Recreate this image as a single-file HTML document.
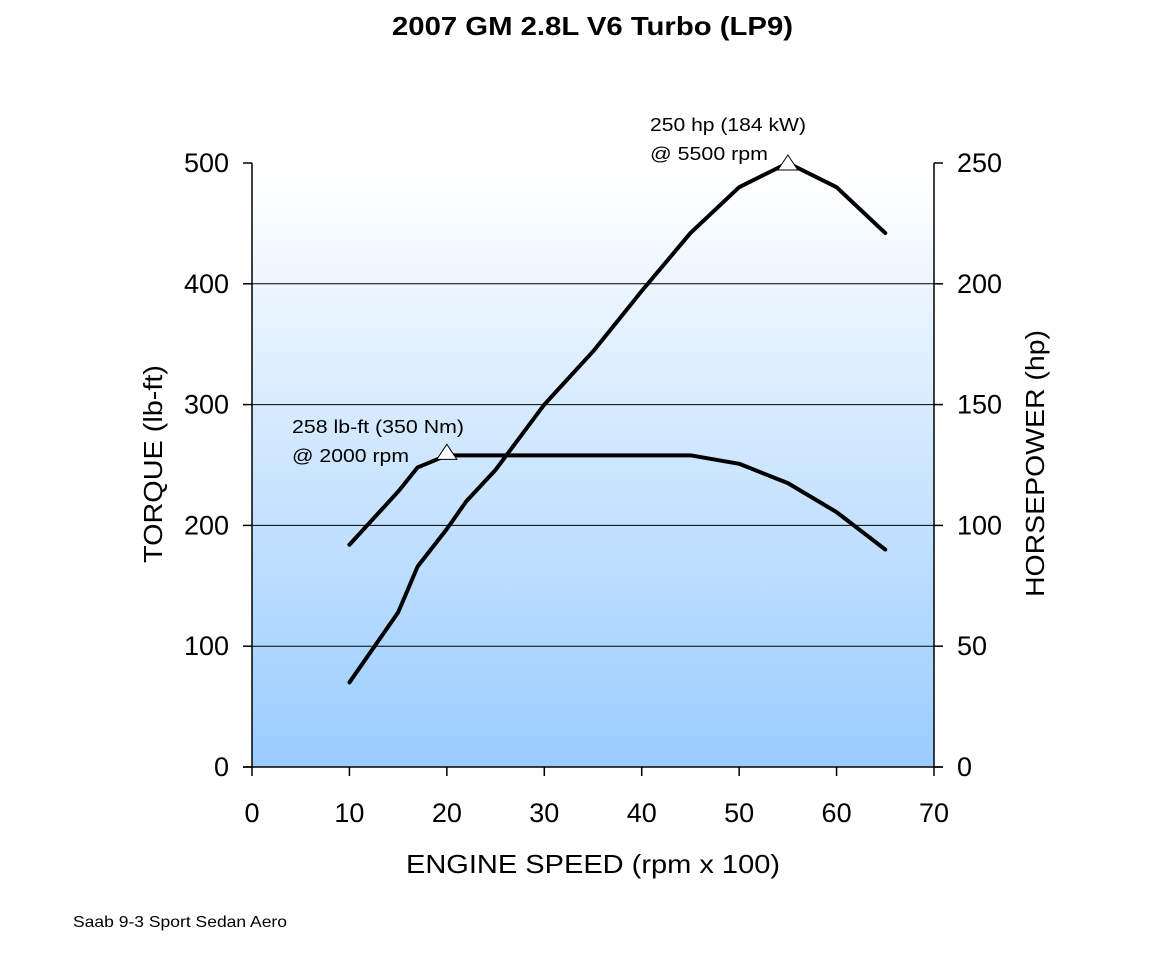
<!DOCTYPE html>
<html><head><meta charset="utf-8"><style>
body{margin:0;background:#fff;}
svg text{font-family:"Liberation Sans",Arial,sans-serif;}
</style></head><body>
<svg width="1152" height="948" viewBox="0 0 1152 948" xmlns="http://www.w3.org/2000/svg">
<defs><linearGradient id="bg" x1="0" y1="0" x2="0" y2="1">
<stop offset="0" stop-color="#ffffff"/><stop offset="0.06" stop-color="#fbfdff"/><stop offset="1" stop-color="#99ccff"/></linearGradient></defs>
<text x="392" y="35" textLength="401" lengthAdjust="spacingAndGlyphs" font-size="26" font-weight="bold">2007 GM 2.8L V6 Turbo (LP9)</text>
<rect x="252" y="163" width="682" height="604" fill="url(#bg)"/>
<g id="grid"></g><g id="axes"></g><g id="series"></g>
<text x="406" y="873" textLength="374" lengthAdjust="spacingAndGlyphs" font-size="26">ENGINE SPEED (rpm x 100)</text>
<text transform="translate(162,563) rotate(-90)" textLength="198" lengthAdjust="spacingAndGlyphs" font-size="26">TORQUE (lb-ft)</text>
<text transform="translate(1044,597) rotate(-90)" textLength="267" lengthAdjust="spacingAndGlyphs" font-size="26">HORSEPOWER (hp)</text>
<text x="292" y="433" textLength="172" lengthAdjust="spacingAndGlyphs" font-size="18">258 lb-ft (350 Nm)</text>
<text x="292" y="462" textLength="117" lengthAdjust="spacingAndGlyphs" font-size="18">@ 2000 rpm</text>
<text x="650" y="131" textLength="156" lengthAdjust="spacingAndGlyphs" font-size="18">250 hp (184 kW)</text>
<text x="650" y="160" textLength="118" lengthAdjust="spacingAndGlyphs" font-size="18">@ 5500 rpm</text>
<text x="73" y="927" textLength="214" lengthAdjust="spacingAndGlyphs" font-size="16">Saab 9-3 Sport Sedan Aero</text>
</svg>
<script>
const rpm = [10,15,17,20,22,25,30,35,40,45,50,55,60,65];
const torque = [184,228,248,258,258,258,258,258,258,258,251,235,211,180];
const hp = [35,64,83,98.5,110,123,150,172,197,221,240,250,240,221];
const xTicks = [0,10,20,30,40,50,60,70];
const torqueTicks = [0,100,200,300,400,500];
const hpTicks = [0,50,100,150,200,250];
const NS="http://www.w3.org/2000/svg";
const X0=252,X1=934,Y0=767,Y1=163;
const xs=v=>X0+(v-0)/70*(X1-X0);
const yt=v=>Y0-v/500*(Y0-Y1);
const yh=v=>Y0-v/250*(Y0-Y1);
function mk(tag,attrs,parent,text){const e=document.createElementNS(NS,tag);for(const k in attrs)e.setAttribute(k,attrs[k]);if(text!==undefined)e.textContent=text;document.getElementById(parent).appendChild(e);return e;}
torqueTicks.forEach(t=>{
  const y=yt(t);
  if(t>0&&t<500){const g=mk('line',{x1:X0,x2:X1,y1:y,y2:y,stroke:'#000','stroke-width':1},'grid');
  
  }
  const tk=mk('line',{x1:X0-9,x2:X0,y1:y,y2:y,stroke:'#000','stroke-width':1.5},'axes');
  
  
  const l=mk('text',{x:229,y:y+9,'text-anchor':'end','font-size':27},'axes',t);
  
  
});
hpTicks.forEach(t=>{
  const y=yh(t);
  const tk=mk('line',{x1:X1,x2:X1+9,y1:y,y2:y,stroke:'#000','stroke-width':1.5},'axes');
  
  
  const l=mk('text',{x:957,y:y+9,'font-size':27},'axes',t);
  
  
});
xTicks.forEach(t=>{
  const x=xs(t);
  const tk=mk('line',{x1:x,x2:x,y1:Y0,y2:Y0+9,stroke:'#000','stroke-width':1.5},'axes');
  
  
  const l=mk('text',{x:x,y:822,'text-anchor':'middle','font-size':27},'axes',t);
  
  
});
[[X0,Y1,X0,Y0],[X1,Y1,X1,Y0],[X0-9,Y0,X1+9,Y0]].forEach(a=>{
  const l=mk('line',{x1:a[0],y1:a[1],x2:a[2],y2:a[3],stroke:'#000','stroke-width':1.5},'axes');
  
  
});
const tp=mk('polyline',{points:rpm.map((r,i)=>xs(r)+','+yt(torque[i])).join(' '),fill:'none',stroke:'#000','stroke-width':4,'stroke-linejoin':'round','stroke-linecap':'round'},'series');


const hpl=mk('polyline',{points:rpm.map((r,i)=>xs(r)+','+yh(hp[i])).join(' '),fill:'none',stroke:'#000','stroke-width':4,'stroke-linejoin':'round','stroke-linecap':'round'},'series');


function tri(x,y,name){const p=mk('polygon',{points:`${x},${y-9} ${x-10},${y+6} ${x+10},${y+6}`,fill:'#fff',stroke:'#000','stroke-width':1},'series');

}
tri(xs(20),yt(258)-2,'peak-torque-marker');
tri(xs(55),yh(250)+1,'peak-hp-marker');
</script>
</body></html>
